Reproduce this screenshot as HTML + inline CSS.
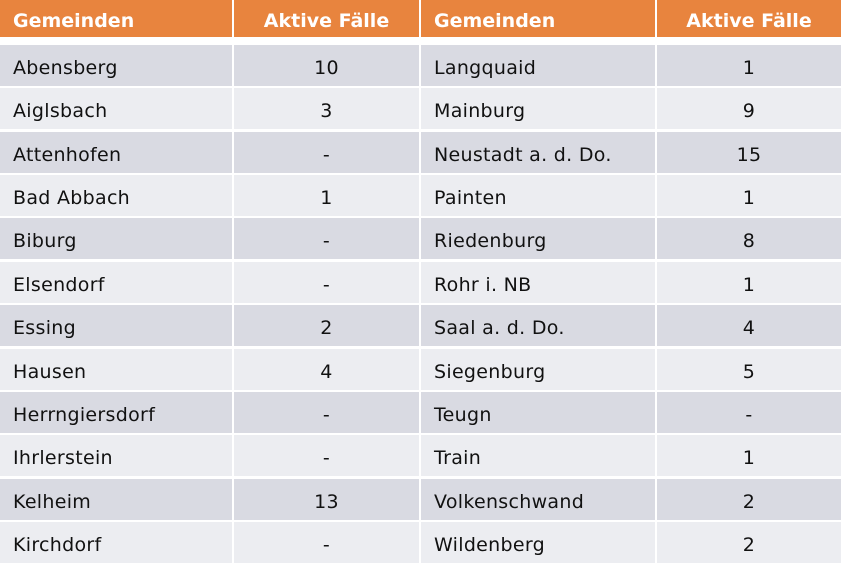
<!DOCTYPE html><html><head><style>
body{margin:0;width:841px;height:560px;overflow:hidden;background:#fff;font-family:"DejaVu Sans","Liberation Sans",sans-serif;}
.c{position:absolute;box-sizing:border-box;display:flex;align-items:center;font-size:19px;letter-spacing:0.3px;color:#111;padding-top:4px;}
.h{background:#E8843E;color:#fff;font-weight:bold;font-size:19px;letter-spacing:0;}
.l{padding-left:13px}.m{justify-content:center}
</style></head><body>
<script>
const L=[["Abensberg","10"],["Aiglsbach","3"],["Attenhofen","-"],["Bad Abbach","1"],["Biburg","-"],["Elsendorf","-"],["Essing","2"],["Hausen","4"],["Herrngiersdorf","-"],["Ihrlerstein","-"],["Kelheim","13"],["Kirchdorf","-"]];
const R=[["Langquaid","1"],["Mainburg","9"],["Neustadt a. d. Do.","15"],["Painten","1"],["Riedenburg","8"],["Rohr i. NB","1"],["Saal a. d. Do.","4"],["Siegenburg","5"],["Teugn","-"],["Train","1"],["Volkenschwand","2"],["Wildenberg","2"]];
const cols=[[0,232],[234,419],[421,655],[657,841]];
let h='';
function cell(x,w,y,hh,cls,bg,t){h+=`<div class="c ${cls}" style="left:${x}px;top:${y}px;width:${w}px;height:${hh}px;${bg?'background:'+bg:''}">${t}</div>`;}
const hd=["Gemeinden","Aktive Fälle","Gemeinden","Aktive Fälle"];
cols.forEach((c,i)=>cell(c[0],c[1]-c[0],0,37,'h '+(i%2?'m':'l'),'',hd[i]));
for(let r=0;r<12;r++){const y=Math.round(45+r*43.36);const bg=r%2?'#ECEDF1':'#D9DAE2';
const row=[L[r][0],L[r][1],R[r][0],R[r][1]];
cols.forEach((c,i)=>cell(c[0],c[1]-c[0],y,41,i%2?'m':'l',bg,row[i]));}
document.write(h);
</script>
</body></html>
